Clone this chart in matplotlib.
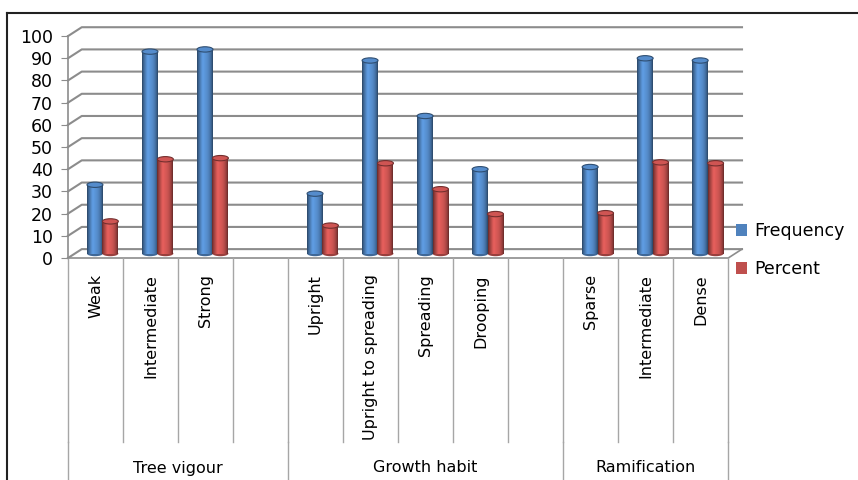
import numpy as np
import matplotlib
matplotlib.use("Agg")
import matplotlib.pyplot as plt
from matplotlib.patches import Ellipse, Patch
from matplotlib.lines import Line2D
from matplotlib.transforms import blended_transform_factory

# data
categories = ['Weak', 'Intermediate', 'Strong', '',
              'Upright', 'Upright to spreading', 'Spreading', 'Drooping', '',
              'Sparse', 'Intermediate', 'Dense']
groups = ['Tree vigour', 'Growth habit', 'Ramification']
group_sizes = [4, 5, 3]
frequency = [31, 91, 92, None, 27, 87, 62, 38, None, 39, 88, 87]
percent = [14.5, 42.5, 43.0, None, 12.6, 40.7, 29.0, 17.8, None, 18.2, 41.1, 40.7]

blue = np.array([0.31, 0.51, 0.74])
red = np.array([0.75, 0.31, 0.30])

plt.rcParams['font.family'] = ['DejaVu Sans']

W, H = 858, 480
fig = plt.figure(figsize=(W / 100, H / 100), dpi=100)
ax = fig.add_axes([68 / W, 1 - 258 / H, (742 - 68) / W, 233 / H])

DX, DY = 0.25, 4.0   # fake depth of the 3d wall
n = len(categories)
grid_col = '#8c8c8c'

# back wall grid + left side
for v in range(0, 101, 10):
    ax.plot([-0.5, -0.5 + DX, n - 0.5 + DX], [v, v + DY, v + DY],
            color=grid_col, lw=1.5, zorder=1, clip_on=False)
# floor
ax.plot([-0.5, n - 0.5, n - 0.5 + DX], [0, 0, DY], color=grid_col, lw=1.2,
        zorder=1, clip_on=False)


def cylinder(xc, h, w, col):
    base = DY / 2
    t = np.linspace(0, 1, 60)
    k = 0.5 + 0.62 * np.sin(np.pi * t) ** 0.7
    k = k + 0.12 * np.exp(-((t - 0.35) / 0.12) ** 2)
    img = np.clip(col[None, :] * k[:, None], 0, 1)[None, :, :]
    ax.add_patch(Ellipse((xc, base), w, 2.4, facecolor=col * 0.8,
                         edgecolor='none', zorder=3))
    ax.imshow(img, extent=[xc - w / 2, xc + w / 2, base, base + h],
              aspect='auto', interpolation='bilinear', zorder=4)
    ax.add_patch(Ellipse((xc, base + h), w, 2.4, facecolor=np.clip(col * 1.08, 0, 1),
                         edgecolor=col * 0.6, lw=0.8, zorder=5))


bw = 0.29
for i in range(n):
    if frequency[i] is None:
        continue
    cylinder(i - 0.01, frequency[i], bw, blue)
    cylinder(i + 0.27, percent[i], bw, red)

ax.set_xlim(-0.5, n - 0.5 + DX)
ax.set_ylim(0, 105)
ax.set_aspect('auto')
for s in ['top', 'right', 'bottom']:
    ax.spines[s].set_visible(False)
ax.spines['left'].set_bounds(0, 100)
ax.spines['left'].set_color(grid_col)
ax.spines['left'].set_linewidth(1.2)
ax.set_xticks([])
ax.set_yticks(range(0, 101, 10))
ax.tick_params(axis='y', length=5, color=grid_col, labelsize=12.5, pad=6)
ax.patch.set_visible(False)

# category / group table under the axis
tr = blended_transform_factory(ax.transData, fig.transFigure)
sep = '#a6a6a6'
for k in range(n + 1):
    ax.plot([k - 0.5, k - 0.5], [1 - 258 / H, 1 - 442 / H], color=sep, lw=1,
            transform=tr, clip_on=False)
for i, c in enumerate(categories):
    ax.text(i, 1 - 274 / H, c, rotation=90, ha='center', va='top',
            fontsize=11.5, transform=tr)
start = 0
for g, size in zip(groups, group_sizes):
    ax.plot([start - 0.5, start - 0.5], [1 - 442 / H, 0], color=sep, lw=1,
            transform=tr, clip_on=False)
    ax.text(start - 0.5 + size / 2, 1 - 468 / H, g, ha='center', va='center',
            fontsize=11.5, transform=tr)
    start += size
ax.plot([n - 0.5, n - 0.5], [1 - 442 / H, 0], color=sep, lw=1,
        transform=tr, clip_on=False)

# legend
handles = [Patch(facecolor=blue), Patch(facecolor=red)]
fig.legend(handles, ['Frequency', 'Percent'], loc='upper left',
           bbox_to_anchor=(729 / W, 1 - 215 / H), frameon=False,
           fontsize=12.5, handlelength=0.65, handleheight=0.7,
           handletextpad=0.4, labelspacing=1.15, borderaxespad=0)

# outer frame
fig.add_artist(Line2D([7 / W, 1], [1 - 13 / H, 1 - 13 / H], color='#222222', lw=1.5))
fig.add_artist(Line2D([7 / W, 7 / W], [0, 1 - 13 / H], color='#222222', lw=1.5))

fig.savefig('out.png', dpi=100)
